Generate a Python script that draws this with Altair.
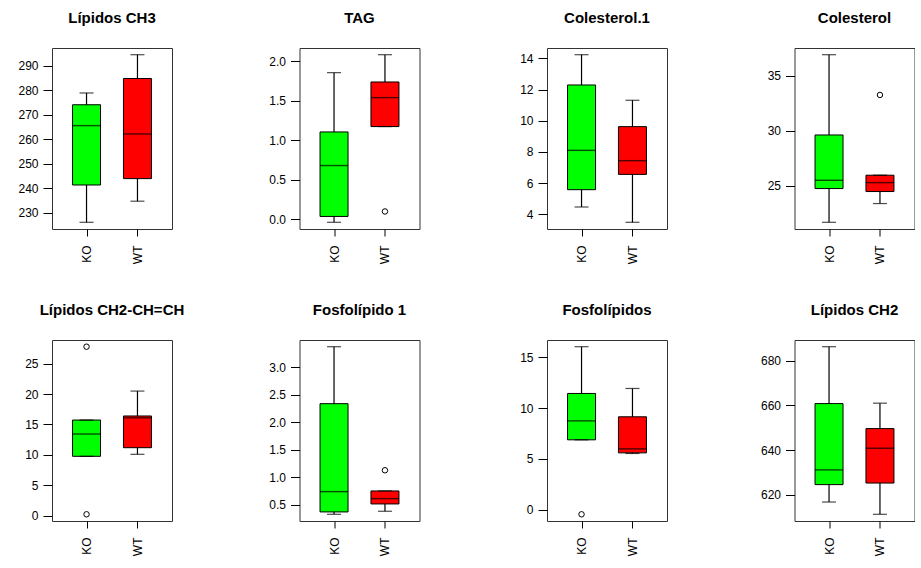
import altair as alt
import pandas as pd

# ---------------- data ----------------
titles = ["Lípidos CH3", "TAG", "Colesterol.1", "Colesterol",
          "Lípidos CH2-CH=CH", "Fosfolípido 1", "Fosfolípidos", "Lípidos CH2"]
groups = ["KO", "WT"]
colors = ["#00ff00", "#ff0000"]

# box statistics per panel: lower whisker, Q1, median, Q3, upper whisker
ko_low = [226.2, -0.04, 4.47, 21.7, 9.76, 0.33, 6.88, 616.7]
ko_q1 = [241.4, 0.034, 5.58, 24.76, 9.76, 0.373, 6.88, 624.5]
ko_med = [265.6, 0.678, 8.10, 25.51, 13.43, 0.742, 8.74, 631.1]
ko_q3 = [274.1, 1.103, 12.29, 29.62, 15.73, 2.34, 11.43, 660.8]
ko_high = [278.9, 1.853, 14.23, 36.9, 15.73, 3.375, 16.02, 686.3]

wt_low = [234.8, 1.171, 3.49, 23.4, 10.09, 0.385, 5.54, 611.2]
wt_q1 = [244.0, 1.171, 6.56, 24.49, 11.18, 0.518, 5.60, 625.2]
wt_med = [262.2, 1.537, 7.44, 25.3, 16.1, 0.615, 5.99, 640.8]
wt_q3 = [284.8, 1.735, 9.62, 25.97, 16.4, 0.754, 9.14, 649.6]
wt_high = [294.5, 2.08, 11.31, 25.97, 20.5, 0.754, 11.92, 661.0]

ko_outliers = [[], [], [], [], [27.8, 0.22], [], [-0.43], []]
wt_outliers = [[], [0.097], [], [33.25], [], [1.13], [], []]

y_ticks = [[230, 240, 250, 260, 270, 280, 290],
           [0, 0.5, 1, 1.5, 2],
           [4, 6, 8, 10, 12, 14],
           [25, 30, 35],
           [0, 5, 10, 15, 20, 25],
           [0.5, 1, 1.5, 2, 2.5, 3],
           [0, 5, 10, 15],
           [620, 640, 660, 680]]
y_formats = ["d", ".1f", "d", "d", "d", ".1f", "d", "d"]

FONT = "Liberation Sans"


def make_panel(i):
    stats = pd.DataFrame({
        "pos": [1, 2],
        "grp": groups,
        "lo": [ko_low[i], wt_low[i]],
        "q1": [ko_q1[i], wt_q1[i]],
        "med": [ko_med[i], wt_med[i]],
        "q3": [ko_q3[i], wt_q3[i]],
        "hi": [ko_high[i], wt_high[i]],
    })
    outl = pd.DataFrame({
        "pos": [1] * len(ko_outliers[i]) + [2] * len(wt_outliers[i]),
        "val": ko_outliers[i] + wt_outliers[i],
    })
    vals = [ko_low[i], ko_high[i], wt_low[i], wt_high[i]] + ko_outliers[i] + wt_outliers[i]
    lo, hi = min(vals), max(vals)
    ext = 0.04 * (hi - lo)
    yscale = alt.Scale(domain=[lo - ext, hi + ext], nice=False, zero=False)
    yaxis = alt.Axis(values=y_ticks[i], format=y_formats[i], title=None, grid=False,
                     domain=False, tickSize=9, tickColor="black", labelPadding=5,
                     labelFontSize=12, labelFont=FONT, labelColor="black")
    xenc = alt.X("pos:Q",
                 scale=alt.Scale(domain=[0.42, 2.58], nice=False, zero=False),
                 axis=alt.Axis(values=[1, 2],
                               labelExpr=f"datum.value == 1 ? '{groups[0]}' : '{groups[1]}'",
                               labelAngle=270, title=None, grid=False, domain=False,
                               tickSize=7, tickColor="black", labelPadding=9,
                               labelFontSize=12, labelFont=FONT, labelColor="black"))

    def Y(f):
        return alt.Y(f"{f}:Q", scale=yscale, axis=yaxis)

    base = alt.Chart(stats)
    whisk = base.mark_rule(color="black", strokeWidth=1.2).encode(x=xenc, y=Y("lo"), y2="hi")
    box = base.mark_bar(size=28, stroke="black", strokeWidth=1).encode(
        x=xenc, y=Y("q1"), y2="q3",
        color=alt.Color("grp:N", scale=alt.Scale(domain=groups, range=colors), legend=None))
    med = base.mark_tick(orient="horizontal", size=28, thickness=1.4, color="black").encode(
        x=xenc, y=Y("med"))
    cap_lo = base.mark_tick(orient="horizontal", size=14, thickness=1.2, color="black").encode(
        x=xenc, y=Y("lo"))
    cap_hi = base.mark_tick(orient="horizontal", size=14, thickness=1.2, color="black").encode(
        x=xenc, y=Y("hi"))
    layers = [whisk, box, med, cap_lo, cap_hi]
    if len(outl):
        pts = alt.Chart(outl).mark_point(shape="circle", filled=False, size=30,
                                         color="black", strokeWidth=1, opacity=1).encode(
            x=xenc, y=Y("val"))
        layers.append(pts)
    return alt.layer(*layers).properties(
        width=120, height=181,
        title=alt.TitleParams(text=titles[i], font=FONT, fontSize=15, fontWeight="bold",
                              color="black", anchor="middle", frame="group",
                              baseline="alphabetic", offset=10))


panels = [make_panel(i) for i in range(8)]
chart = alt.concat(*panels, columns=4, spacing={"row": 111, "column": 127.5},
                   bounds="flush").properties(
    padding={"left": 17, "top": 10, "right": 0, "bottom": 0}
).configure_view(stroke="#333333", strokeWidth=1)

chart.save("out.html", embed_options={"renderer": "svg", "actions": False})
